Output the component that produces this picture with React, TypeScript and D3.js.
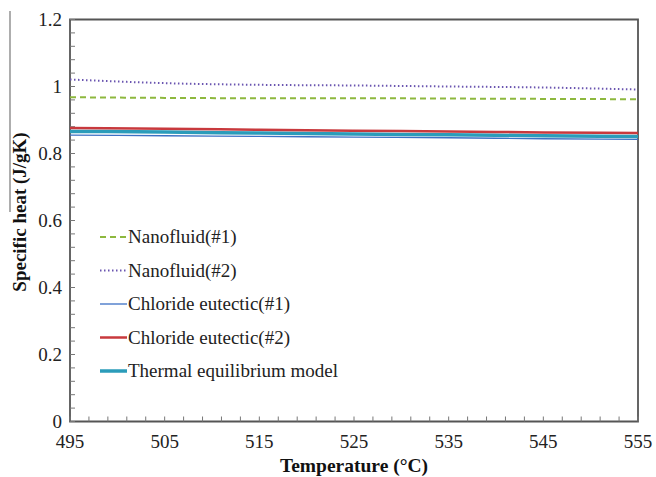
import React from 'react';
import * as d3 from 'd3';

// temperature samples (°C)
const temps = [495, 505, 515, 525, 535, 545, 555];

// specific heat values (J/gK)
const nano1 = [0.968, 0.966, 0.965, 0.965, 0.964, 0.963, 0.962];
const nano2 = [1.021, 1.010, 1.005, 1.003, 1.000, 0.997, 0.991];
const chloride1 = [0.855, 0.853, 0.851, 0.849, 0.847, 0.844, 0.842];
const chloride2 = [0.876, 0.874, 0.871, 0.868, 0.866, 0.863, 0.861];
const thermalEq = [0.866, 0.864, 0.861, 0.858, 0.856, 0.853, 0.851];

const xTicks = [495, 505, 515, 525, 535, 545, 555];
const yTicks = [0, 0.2, 0.4, 0.6, 0.8, 1, 1.2];

const series = [
  { name: 'Nanofluid(#1)', values: nano1, color: '#8db83e', width: 2, dash: '6,4' },
  { name: 'Nanofluid(#2)', values: nano2, color: '#6a55b0', width: 2, dash: '1.5,2.5' },
  { name: 'Chloride eutectic(#1)', values: chloride1, color: '#3c70c4', width: 1.3, dash: null },
  { name: 'Chloride eutectic(#2)', values: chloride2, color: '#c8393d', width: 2.5, dash: null },
  { name: 'Thermal equilibrium model', values: thermalEq, color: '#2b9cba', width: 3.5, dash: null },
];

const W = 656;
const H = 477;
const m = { left: 70, right: 638, top: 19.5, bottom: 421.5 };
const serif = { fontFamily: "'Liberation Serif', 'Times New Roman', Times, serif" };

export default function App() {
  const x = d3.scaleLinear().domain([495, 555]).range([m.left, m.right]);
  const y = d3.scaleLinear().domain([0, 1.2]).range([m.bottom, m.top]);
  const line = d3.line<number>()
    .x((_, i) => x(temps[i]))
    .y((d) => y(d))
    .curve(d3.curveMonotoneX);

  const xMinor = d3.range(495, 555.01, 2);
  const yMinor = d3.range(0, 1.2001, 0.04);
  const axisColor = '#555';

  // draw order: teal under red/blue
  const drawOrder = [4, 3, 2, 0, 1];

  return (
    <svg width={W} height={H} style={{ position: 'absolute', left: 0, top: 0, background: '#fff' }}>
      <line x1={10} x2={10} y1={11} y2={212} stroke="#777" strokeWidth={1.2} />

      {/* frame */}
      <path
        d={`M${m.left},${m.top}H${m.right}V${m.bottom}H${m.left}Z`}
        fill="none"
        stroke={axisColor}
        strokeWidth={1.8}
      />

      {/* minor ticks */}
      {xMinor.map((t) => (
        <line key={'xm' + t} x1={x(t)} x2={x(t)} y1={m.bottom} y2={m.bottom - 5} stroke="#777" strokeWidth={1} />
      ))}
      {yMinor.map((t) => (
        <line key={'ym' + t} x1={m.left} x2={m.left + 5} y1={y(t)} y2={y(t)} stroke="#777" strokeWidth={1} />
      ))}

      {/* tick labels */}
      {xTicks.map((t) => (
        <text key={'xl' + t} x={x(t)} y={m.bottom + 26} fontSize={19} textAnchor="middle" fill="#222" style={serif}>
          {t}
        </text>
      ))}
      {yTicks.map((t) => (
        <text key={'yl' + t} x={m.left - 8} y={y(t) + 6} fontSize={19} textAnchor="end" fill="#222" style={serif}>
          {d3.format('')(+t.toFixed(1))}
        </text>
      ))}

      {/* series */}
      {drawOrder.map((i) => {
        const s = series[i];
        return (
          <path
            key={s.name}
            d={line(s.values) || ''}
            fill="none"
            stroke={s.color}
            strokeWidth={s.width}
            strokeDasharray={s.dash || undefined}
          />
        );
      })}

      {/* legend */}
      {series.map((s, i) => {
        const ly = 237 + i * 33.5;
        return (
          <g key={'lg' + i}>
            <line
              x1={100}
              x2={127}
              y1={ly}
              y2={ly}
              stroke={s.color}
              strokeWidth={s.width}
              strokeDasharray={s.dash || undefined}
            />
            <text x={128} y={ly + 6} fontSize={19} fill="#222" style={serif}>
              {s.name}
            </text>
          </g>
        );
      })}

      {/* axis titles */}
      <text x={(m.left + m.right) / 2} y={472} fontSize={19.5} fontWeight="bold" textAnchor="middle" fill="#111" style={serif}>
        Temperature (°C)
      </text>
      <text
        transform={`translate(26,${212}) rotate(-90)`}
        fontSize={19}
        fontWeight="bold"
        textAnchor="middle"
        fill="#111"
        style={serif}
      >
        Specific heat (J/gK)
      </text>
    </svg>
  );
}
